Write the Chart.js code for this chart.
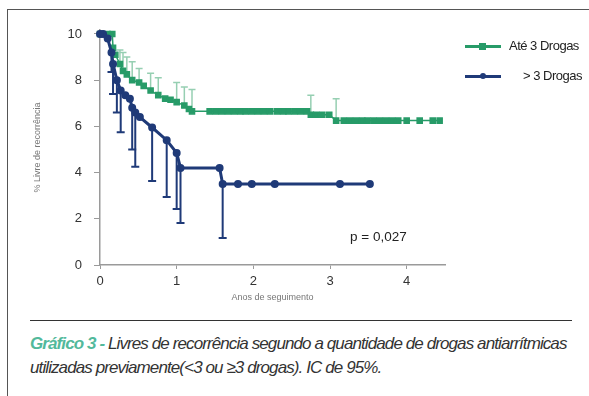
<!DOCTYPE html>
<html>
<head>
<meta charset="utf-8">
<script src="https://cdn.jsdelivr.net/npm/chart.js@4.4.1/dist/chart.umd.min.js"></script>
<style>
  body { margin: 0; width: 589px; height: 396px; overflow: hidden; background: #fff; font-family: "Liberation Sans", Arial, sans-serif; }
  .frame { position: absolute; left: 7px; top: 9px; width: 700px; height: 500px; border-left: 1px solid #555; border-top: 1px solid #555; }
  #chart { position: absolute; left: 0; top: 0; }
  .legend { position: absolute; left: 465px; font-size: 13px; color: #222; letter-spacing: -0.5px; }
  .legend .line { position: absolute; left: 0; width: 36px; top: 0; }
  .legend .mark { position: absolute; }
  .pval { position: absolute; left: 350px; top: 229px; font-size: 13.5px; color: #222; }
  .sep { position: absolute; left: 30px; top: 320px; width: 542px; border-top: 1px solid #333; }
  .caption { position: absolute; left: 30px; top: 332px; font-size: 17px; font-style: italic; line-height: 24px; color: #333; white-space: nowrap; letter-spacing: -0.9px; }
  .caption b { color: #52b99b; }
</style>
</head>
<body>
<div class="frame"></div>
<canvas id="chart" width="589" height="310"></canvas>

<div class="legend" style="top:46px">
  <div class="line" style="border-top:3px solid #279b68; top:-1px"></div>
  <div class="mark" style="left:14px; top:-3px; width:7px; height:7px; background:#279b68"></div>
  <span style="position:absolute; left:44px; top:-8px; white-space:nowrap">Até 3 Drogas</span>
</div>
<div class="legend" style="top:76px">
  <div class="line" style="border-top:3px solid #1f3a78; top:-1px"></div>
  <div class="mark" style="left:15px; top:-3px; width:6px; height:6px; border-radius:3px; background:#1f3a78"></div>
  <span style="position:absolute; left:58px; top:-8px; white-space:nowrap">&gt; 3 Drogas</span>
</div>

<div class="pval">p = 0,027</div>
<div class="sep"></div>
<div class="caption"><b>Gráfico 3 -</b> Livres de recorrência segundo a quantidade de drogas antiarrítmicas<br>utilizadas previamente(&lt;3 ou ≥3 drogas). IC de 95%.</div>

<script>
// Até 3 Drogas (green) - survival and upper CI limit
var greenX = [0, 0.10, 0.16, 0.17, 0.20, 0.26, 0.30, 0.35, 0.42, 0.51, 0.57, 0.66, 0.76, 0.85, 0.92, 1.00, 1.10, 1.16, 1.20,
  1.43, 1.51, 1.59, 1.67, 1.75, 1.83, 1.90, 1.98, 2.06, 2.14, 2.22, 2.31, 2.39, 2.46, 2.54, 2.62, 2.70,
  2.75, 2.82, 2.90, 2.99,
  3.08, 3.18, 3.26, 3.34, 3.42, 3.49, 3.57, 3.65, 3.73, 3.81, 3.89, 4.00, 4.17, 4.34, 4.43];
var greenY = [10, 10, 10, 9.4, 9.1, 8.7, 8.4, 8.25, 8.0, 7.9, 7.75, 7.55, 7.35, 7.2, 7.15, 7.05, 6.9, 6.75, 6.65,
  6.65, 6.65, 6.65, 6.65, 6.65, 6.65, 6.65, 6.65, 6.65, 6.65, 6.65, 6.65, 6.65, 6.65, 6.65, 6.65, 6.65,
  6.5, 6.5, 6.5, 6.5,
  6.25, 6.25, 6.25, 6.25, 6.25, 6.25, 6.25, 6.25, 6.25, 6.25, 6.25, 6.25, 6.25, 6.25, 6.25];
var greenUpper = [null, null, null, null, null, 9.3, 9.2, 9.0, 8.8, 8.5, null, 8.3, 8.1, null, null, 7.9, 7.7, null, 7.6,
  null, null, null, null, null, null, null, null, null, null, null, null, null, null, null, null, null,
  7.35, null, null, null,
  7.2, null, null, null, null, null, null, null, null, null, null, null, null, null, null];

// > 3 Drogas (blue) - survival and lower CI limit
var blueX = [0, 0.04, 0.10, 0.15, 0.17, 0.22, 0.27, 0.33, 0.39, 0.42, 0.46, 0.52, 0.68, 0.87, 1.00, 1.05, 1.56, 1.60, 1.80, 1.98, 2.28, 3.13, 3.52];
var blueY = [10, 10, 9.8, 9.2, 8.7, 8.0, 7.55, 7.35, 7.2, 6.8, 6.6, 6.4, 5.95, 5.4, 4.85, 4.2, 4.2, 3.5, 3.5, 3.5, 3.5, 3.5, 3.5];
var blueLower = [null, null, null, 8.35, 7.4, 6.6, 5.75, null, null, 5.0, 4.25, null, 3.64, 2.94, 2.42, 1.82, null, 1.17, null, null, null, null, null];

var xTicks = [0, 1, 2, 3, 4];
var yTicks = [0, 2, 4, 6, 8, 10];

function pts(xs, ys) {
  return xs.map(function (v, i) { return { x: v, y: ys[i] }; });
}

// draws the confidence interval whiskers through the chart scales
var errorBars = {
  id: 'errorBars',
  beforeDatasetsDraw: function (chart) {
    var ctx = chart.ctx, xs = chart.scales.x, ys = chart.scales.y;
    chart.data.datasets.forEach(function (ds) {
      if (!ds.bounds) return;
      ctx.save();
      ctx.strokeStyle = ds.barColor;
      ctx.lineWidth = ds.barWidth;
      ds.data.forEach(function (p, i) {
        var b = ds.bounds[i];
        if (b == null) return;
        var px = xs.getPixelForValue(p.x), py = ys.getPixelForValue(p.y), pb = ys.getPixelForValue(b);
        ctx.beginPath();
        ctx.moveTo(px, py); ctx.lineTo(px, pb);
        ctx.moveTo(px - ds.cap, pb); ctx.lineTo(px + ds.cap, pb);
        ctx.stroke();
      });
      ctx.restore();
    });
  }
};

new Chart(document.getElementById('chart'), {
  type: 'line',
  data: {
    datasets: [
      {
        label: '> 3 Drogas',
        data: pts(blueX, blueY),
        bounds: blueLower, barColor: '#1f3a78', barWidth: 2, cap: 4,
        borderColor: '#1f3a78', backgroundColor: '#1f3a78',
        borderWidth: 3, pointRadius: 2.5, pointStyle: 'circle',
        tension: 0, clip: false, order: 1
      },
      {
        label: 'Até 3 Drogas',
        data: pts(greenX, greenY),
        bounds: greenUpper, barColor: '#96cfb2', barWidth: 1.5, cap: 3.5,
        borderColor: '#279b68', backgroundColor: '#279b68',
        borderWidth: 1.5, pointRadius: 3.6, pointStyle: 'rect',
        tension: 0, clip: false, order: 2
      }
    ]
  },
  options: {
    responsive: false,
    animation: false,
    devicePixelRatio: 1,
    layout: { padding: { left: 0, top: 30, right: 144, bottom: 0 } },
    plugins: { legend: { display: false }, tooltip: { enabled: false } },
    elements: { point: { borderWidth: 0 } },
    scales: {
      x: {
        type: 'linear', min: 0, max: 4.5,
        afterBuildTicks: function (s) { s.ticks = xTicks.map(function (v) { return { value: v }; }); },
        afterFit: function (s) { s.height = 45; },
        border: { color: '#9a9a9a', width: 1.5 },
        grid: { drawOnChartArea: false, drawTicks: true, tickLength: 4, color: '#9a9a9a' },
        ticks: { padding: 5, color: '#333', font: { family: 'Liberation Sans', size: 13 } },
        title: { display: true, text: 'Anos de seguimento', color: '#777', font: { family: 'Liberation Sans', size: 9 }, padding: { top: 0, bottom: 7 } }
      },
      y: {
        type: 'linear', min: 0, max: 10.17,
        afterBuildTicks: function (s) { s.ticks = yTicks.map(function (v) { return { value: v }; }); },
        afterFit: function (s) { s.width = 100; },
        border: { color: '#9a9a9a', width: 1.5 },
        grid: { drawOnChartArea: false, drawTicks: true, tickLength: 6, color: '#9a9a9a' },
        ticks: { padding: 12, color: '#333', font: { family: 'Liberation Sans', size: 13 } },
        title: { display: true, text: '% Livre de recorrência', color: '#777', font: { family: 'Liberation Sans', size: 9 }, padding: { top: 32, bottom: 0 } }
      }
    }
  },
  plugins: [errorBars]
});
</script>
</body>
</html>
